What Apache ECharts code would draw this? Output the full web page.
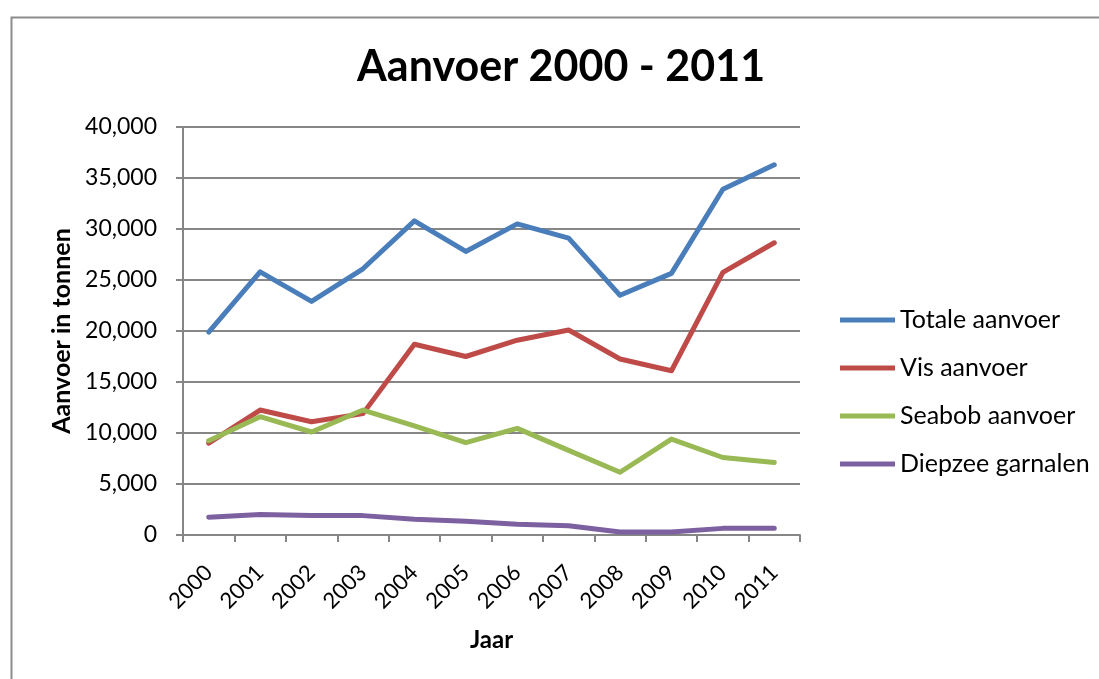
<!DOCTYPE html>
<html>
<head>
<meta charset="utf-8">
<script src="https://cdn.jsdelivr.net/npm/echarts@6/dist/echarts.min.js"></script>
<style>html,body{margin:0;padding:0;background:#fff;}#c{width:1099px;height:679px;}</style>
</head>
<body>
<div id="c"></div>
<script>
const years = ['2000','2001','2002','2003','2004','2005','2006','2007','2008','2009','2010','2011'];
const totaleAanvoer = [19900, 25800, 22900, 26100, 30800, 27800, 30500, 29100, 23500, 25650, 33900, 36300];
const visAanvoer = [9000, 12250, 11100, 11900, 18700, 17500, 19100, 20100, 17250, 16100, 25750, 28650];
const seabobAanvoer = [9250, 11600, 10100, 12250, 10700, 9050, 10450, 8300, 6150, 9400, 7600, 7100];
const diepzeeGarnalen = [1750, 2000, 1900, 1900, 1550, 1350, 1050, 900, 300, 300, 650, 650];
const seriesNames = ['Totale aanvoer', 'Vis aanvoer', 'Seabob aanvoer', 'Diepzee garnalen'];
const colors = ['#4a7ebb', '#be4b48', '#98b954', '#7d60a0'];

const F = 'Lato, "Open Sans", sans-serif';
const chart = echarts.init(document.getElementById('c'), null, {renderer: 'canvas'});
const dataSets = [totaleAanvoer, visAanvoer, seabobAanvoer, diepzeeGarnalen];
chart.setOption({
  animation: false,
  backgroundColor: '#fff',
  color: colors,
  graphic: [{
    type: 'rect', left: 9, top: 15, shape: {width: 1200, height: 800},
    style: {fill: 'none', stroke: '#8c8c8c', lineWidth: 2}, silent: true
  }],
  title: {
    text: 'Aanvoer 2000 - 2011', left: 357, top: 46, padding: 0,
    textStyle: {fontFamily: F, fontWeight: 'bold', fontSize: 43, color: '#000'}
  },
  grid: {left: 183, right: 299, top: 127, bottom: 144, containLabel: false},
  legend: {
    orient: 'vertical', left: 840, top: 307, padding: 0,
    icon: 'rect', itemWidth: 55, itemHeight: 5, itemGap: 22,
    textStyle: {fontFamily: F, fontSize: 25, color: '#000', lineHeight: 26},
    data: seriesNames
  },
  xAxis: {
    type: 'category', data: years, boundaryGap: true,
    name: 'Jaar', nameLocation: 'middle', nameGap: 93,
    nameTextStyle: {fontFamily: F, fontWeight: 'bold', fontSize: 24, color: '#000'},
    axisLine: {lineStyle: {color: '#868686', width: 2}},
    axisTick: {show: true, length: 7, alignWithLabel: false, lineStyle: {color: '#868686', width: 2}},
    axisLabel: {rotate: 45, fontFamily: F, fontSize: 22, color: '#000', margin: 34},
    splitLine: {show: false}
  },
  yAxis: {
    type: 'value', min: 0, max: 40000, interval: 5000,
    name: 'Aanvoer in tonnen', nameLocation: 'middle', nameGap: 108, nameRotate: 90,
    nameTextStyle: {fontFamily: F, fontWeight: 'bold', fontSize: 25, color: '#000'},
    axisLine: {show: true, lineStyle: {color: '#868686', width: 2}},
    axisTick: {show: true, length: 7, inside: false, lineStyle: {color: '#868686', width: 2}},
    axisLabel: {fontFamily: F, fontSize: 23, color: '#000', margin: 26,
      formatter: v => v.toLocaleString('en-US')},
    splitLine: {show: true, lineStyle: {color: '#868686', width: 2}}
  },
  series: dataSets.map((d, i) => ({
    name: seriesNames[i], type: 'line', data: d, symbol: 'none',
    lineStyle: {width: 5, color: colors[i], cap: 'round', join: 'round'},
    itemStyle: {color: colors[i]}
  }))
});
</script>
</body>
</html>
